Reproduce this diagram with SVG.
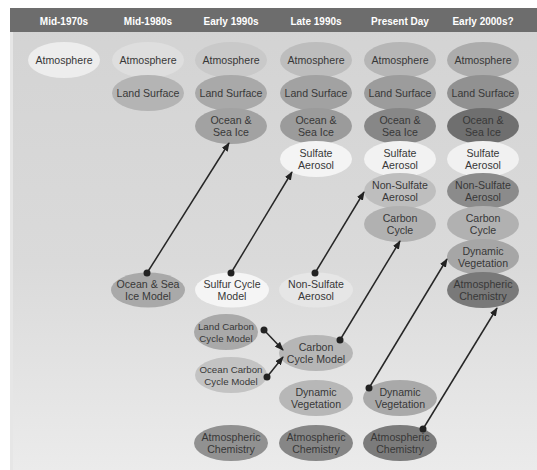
<svg xmlns="http://www.w3.org/2000/svg" width="537" height="470" viewBox="0 0 537 470">
<defs>
<linearGradient id="bg" x1="0" y1="0" x2="0" y2="1">
<stop offset="0" stop-color="#d3d3d3"/>
<stop offset="0.55" stop-color="#dadada"/>
<stop offset="1" stop-color="#ebebeb"/>
</linearGradient>
<marker id="ah" markerUnits="userSpaceOnUse" markerWidth="9" markerHeight="7" refX="8" refY="3.5" orient="auto">
<path d="M0,0 L9,3.5 L0,7 z" fill="#222"/>
</marker>
<style>
.hd{font-family:"Liberation Sans",Arial,sans-serif;font-weight:bold;font-size:10px;fill:#ffffff;text-anchor:middle}
.nd text{font-family:"Liberation Sans",Arial,sans-serif;font-size:10.6px;fill:#383838;text-anchor:middle}
.nd text.sm{font-size:9.7px}
.cn line{stroke:#262626;stroke-width:1.5;marker-end:url(#ah)}
.cn circle{fill:#222}
</style>
</defs>
<rect x="0" y="0" width="537" height="470" fill="#ffffff"/>
<rect x="10" y="8" width="527" height="462" fill="url(#bg)"/>
<rect x="10" y="32" width="3" height="438" fill="#e6e6e6"/>
<rect x="10" y="8" width="527" height="24" fill="#6d6d6d"/>
<g id="headers">
<text class="hd" x="64" y="25">Mid-1970s</text>
<text class="hd" x="148" y="25">Mid-1980s</text>
<text class="hd" x="231" y="25">Early 1990s</text>
<text class="hd" x="316" y="25">Late 1990s</text>
<text class="hd" x="400" y="25">Present Day</text>
<text class="hd" x="483" y="25">Early 2000s?</text>
</g>
<!-- column 1 -->
<g id="c1-atm" class="nd"><ellipse cx="64" cy="60" rx="36" ry="18" fill="#ededed"/><text x="64" y="64">Atmosphere</text></g>
<!-- column 2 -->
<g id="c2-atm" class="nd"><ellipse cx="148" cy="60" rx="36" ry="18" fill="#dedede"/><text x="148" y="64">Atmosphere</text></g>
<g id="c2-land" class="nd"><ellipse cx="148" cy="93" rx="36" ry="18" fill="#b4b4b4"/><text x="148" y="97">Land Surface</text></g>
<!-- column 3 -->
<g id="c3-atm" class="nd"><ellipse cx="231" cy="60" rx="36" ry="18" fill="#c9c9c9"/><text x="231" y="64">Atmosphere</text></g>
<g id="c3-land" class="nd"><ellipse cx="231" cy="93" rx="36" ry="18" fill="#a9a9a9"/><text x="231" y="97">Land Surface</text></g>
<g id="c3-ocean" class="nd"><ellipse cx="231" cy="126" rx="36" ry="18" fill="#a2a2a2"/><text x="231" y="123.5">Ocean &amp;</text><text x="231" y="135.5">Sea Ice</text></g>
<!-- column 4 -->
<g id="c4-atm" class="nd"><ellipse cx="316" cy="60" rx="36" ry="18" fill="#bdbdbd"/><text x="316" y="64">Atmosphere</text></g>
<g id="c4-land" class="nd"><ellipse cx="316" cy="93" rx="36" ry="18" fill="#a2a2a2"/><text x="316" y="97">Land Surface</text></g>
<g id="c4-ocean" class="nd"><ellipse cx="316" cy="126" rx="36" ry="18" fill="#9b9b9b"/><text x="316" y="123.5">Ocean &amp;</text><text x="316" y="135.5">Sea Ice</text></g>
<g id="c4-sulf" class="nd"><ellipse cx="316" cy="159" rx="36" ry="18" fill="#f4f4f4"/><text x="316" y="156.5">Sulfate</text><text x="316" y="168.5">Aerosol</text></g>
<!-- column 5 -->
<g id="c5-atm" class="nd"><ellipse cx="400" cy="60" rx="36" ry="18" fill="#b6b6b6"/><text x="400" y="64">Atmosphere</text></g>
<g id="c5-land" class="nd"><ellipse cx="400" cy="93" rx="36" ry="18" fill="#9c9c9c"/><text x="400" y="97">Land Surface</text></g>
<g id="c5-ocean" class="nd"><ellipse cx="400" cy="126" rx="36" ry="18" fill="#878787"/><text x="400" y="123.5">Ocean &amp;</text><text x="400" y="135.5">Sea Ice</text></g>
<g id="c5-sulf" class="nd"><ellipse cx="400" cy="159" rx="36" ry="18" fill="#f2f2f2"/><text x="400" y="156.5">Sulfate</text><text x="400" y="168.5">Aerosol</text></g>
<g id="c5-nonsulf" class="nd"><ellipse cx="400" cy="191" rx="36" ry="18" fill="#bebebe"/><text x="400" y="188.5">Non-Sulfate</text><text x="400" y="200.5">Aerosol</text></g>
<g id="c5-carbon" class="nd"><ellipse cx="400" cy="224" rx="36" ry="18" fill="#b1b1b1"/><text x="400" y="221.5">Carbon</text><text x="400" y="233.5">Cycle</text></g>
<!-- column 6 -->
<g id="c6-atm" class="nd"><ellipse cx="483" cy="60" rx="36" ry="18" fill="#acacac"/><text x="483" y="64">Atmosphere</text></g>
<g id="c6-land" class="nd"><ellipse cx="483" cy="93" rx="36" ry="18" fill="#919191"/><text x="483" y="97">Land Surface</text></g>
<g id="c6-ocean" class="nd"><ellipse cx="483" cy="126" rx="36" ry="18" fill="#6f6f6f"/><text x="483" y="123.5">Ocean &amp;</text><text x="483" y="135.5">Sea Ice</text></g>
<g id="c6-sulf" class="nd"><ellipse cx="483" cy="159" rx="36" ry="18" fill="#f1f1f1"/><text x="483" y="156.5">Sulfate</text><text x="483" y="168.5">Aerosol</text></g>
<g id="c6-nonsulf" class="nd"><ellipse cx="483" cy="191" rx="36" ry="18" fill="#8b8b8b"/><text x="483" y="188.5">Non-Sulfate</text><text x="483" y="200.5">Aerosol</text></g>
<g id="c6-carbon" class="nd"><ellipse cx="483" cy="224" rx="36" ry="18" fill="#b1b1b1"/><text x="483" y="221.5">Carbon</text><text x="483" y="233.5">Cycle</text></g>
<g id="c6-dynveg" class="nd"><ellipse cx="483" cy="257" rx="36" ry="18" fill="#a6a6a6"/><text x="483" y="254.5">Dynamic</text><text x="483" y="266.5">Vegetation</text></g>
<g id="c6-chem" class="nd"><ellipse cx="483" cy="290" rx="36" ry="18" fill="#797979"/><text x="483" y="287.5">Atmospheric</text><text x="483" y="299.5">Chemistry</text></g>
<!-- lower models -->
<g id="ocean-model" class="nd"><ellipse cx="148" cy="290" rx="37" ry="17.5" fill="#a9a9a9"/><text x="148" y="287.5">Ocean &amp; Sea</text><text x="148" y="299.5">Ice Model</text></g>
<g id="sulfur-model" class="nd"><ellipse cx="232" cy="290" rx="37" ry="17.5" fill="#f5f5f5"/><text x="232" y="287.5">Sulfur Cycle</text><text x="232" y="299.5">Model</text></g>
<g id="nonsulf-model" class="nd"><ellipse cx="316" cy="290" rx="37" ry="17.5" fill="#e6e6e6"/><text x="316" y="287.5">Non-Sulfate</text><text x="316" y="299.5">Aerosol</text></g>
<g id="land-carbon" class="nd"><ellipse cx="226" cy="332" rx="32" ry="18" fill="#a9a9a9"/><text class="sm" x="226" y="329.5">Land Carbon</text><text class="sm" x="226" y="341.5">Cycle Model</text></g>
<g id="ocean-carbon" class="nd"><ellipse cx="231" cy="375" rx="36" ry="18" fill="#c3c3c3"/><text class="sm" x="231" y="372.5">Ocean Carbon</text><text class="sm" x="231" y="384.5">Cycle Model</text></g>
<g id="carbon-model" class="nd"><ellipse cx="316" cy="353" rx="37" ry="18" fill="#b6b6b6"/><text x="316" y="350.5">Carbon</text><text x="316" y="362.5">Cycle Model</text></g>
<g id="dynveg4" class="nd"><ellipse cx="316" cy="398" rx="37" ry="18" fill="#b7b7b7"/><text x="316" y="395.5">Dynamic</text><text x="316" y="407.5">Vegetation</text></g>
<g id="dynveg5" class="nd"><ellipse cx="400" cy="398" rx="37" ry="18" fill="#a9a9a9"/><text x="400" y="395.5">Dynamic</text><text x="400" y="407.5">Vegetation</text></g>
<g id="chem3" class="nd"><ellipse cx="231" cy="443" rx="37" ry="18" fill="#919191"/><text x="231" y="440.5">Atmospheric</text><text x="231" y="452.5">Chemistry</text></g>
<g id="chem4" class="nd"><ellipse cx="316" cy="443" rx="37" ry="18" fill="#868686"/><text x="316" y="440.5">Atmospheric</text><text x="316" y="452.5">Chemistry</text></g>
<g id="chem5" class="nd"><ellipse cx="400" cy="443" rx="37" ry="18" fill="#7b7b7b"/><text x="400" y="440.5">Atmospheric</text><text x="400" y="452.5">Chemistry</text></g>
<!-- connectors -->
<g id="connectors" class="cn">
<line x1="147" y1="273" x2="229" y2="143"/><circle cx="147" cy="273" r="3.5"/>
<line x1="231" y1="273" x2="292" y2="172"/><circle cx="231" cy="273" r="3.5"/>
<line x1="315" y1="273" x2="364" y2="192"/><circle cx="315" cy="273" r="3.5"/>
<line x1="340" y1="340" x2="400" y2="241"/><circle cx="340" cy="340" r="3.5"/>
<line x1="369" y1="388" x2="447" y2="259"/><circle cx="369" cy="388" r="3.5"/>
<line x1="423" y1="429" x2="497" y2="308"/><circle cx="423" cy="429" r="3.5"/>
<line x1="264" y1="330" x2="283" y2="350"/><circle cx="264" cy="330" r="3.5"/>
<line x1="267" y1="377" x2="283" y2="357"/><circle cx="267" cy="377" r="3.5"/>
</g>
</svg>
